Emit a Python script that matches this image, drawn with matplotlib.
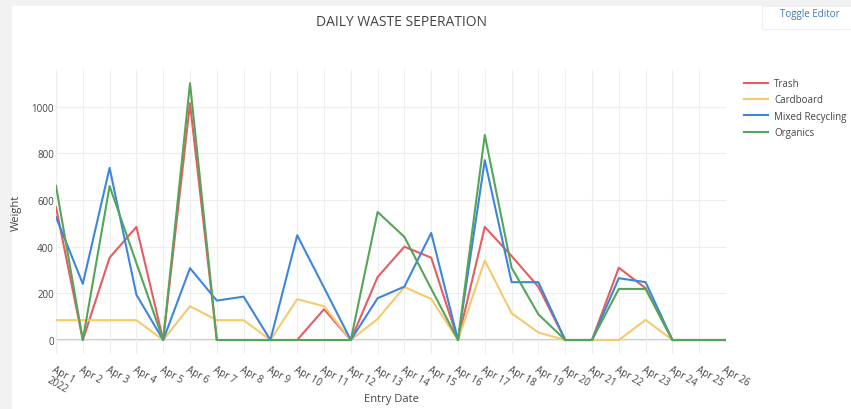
import matplotlib
matplotlib.use("Agg")
import matplotlib.pyplot as plt
import matplotlib.patches as mpatches
import pandas as pd

plt.rcParams["font.family"] = ["Open Sans", "DejaVu Sans"]

# daily weights, Apr 1 .. Apr 26 2022
dates = pd.date_range("2022-04-01", "2022-04-26", freq="D")
trash = [570, 0, 353, 485, 0, 1015, 0, 0, 0, 0, 132, 0, 270, 400, 353,
         0, 485, 360, 228, 0, 0, 310, 222, 0, 0, 0]
cardboard = [85, 85, 85, 85, 0, 145, 85, 85, 0, 175, 145, 0, 90, 227, 176,
             0, 341, 115, 32, 0, 0, 0, 86, 0, 0, 0]
mixed_recycling = [527, 241, 738, 194, 0, 308, 169, 186, 0, 449, 225, 0, 179, 229, 459,
                   0, 771, 248, 248, 0, 0, 265, 248, 0, 0, 0]
organics = [661, 0, 660, 330, 0, 1101, 0, 0, 0, 0, 0, 0, 549, 442, 220,
            0, 879, 310, 110, 0, 0, 219, 219, 0, 0, 0]

series = [
    ("Trash", trash, "#e35d63"),
    ("Cardboard", cardboard, "#f5c96e"),
    ("Mixed Recycling", mixed_recycling, "#3d86dc"),
    ("Organics", organics, "#55a558"),
]
tick_labels = ["Apr 1\n2022"] + [f"Apr {d.day}" for d in dates[1:]]

fig = plt.figure(figsize=(8.51, 4.10), dpi=100, facecolor="#f2f2f2")
# white page area inside the grey frame
fig.patches.append(mpatches.Rectangle((12 / 851, 0), 1, 1 - 7 / 410,
                                      transform=fig.transFigure,
                                      facecolor="white", edgecolor="none", zorder=-5))
ax = fig.add_axes([56 / 851, 1 - 355 / 410, 670 / 851, 285 / 410])
ax.set_zorder(2)
ax.set_facecolor("white")

for name, vals, color in series:
    ax.plot(dates, vals, color=color, lw=1.5, label=name, zorder=3)

ax.set_xlim(dates[0], dates[-1])
ax.set_ylim(-60, 1162)
ax.set_yticks([0, 200, 400, 600, 800, 1000])
ax.set_xticks(dates)
ax.set_xticklabels(tick_labels, rotation=-30, ha="left", rotation_mode="anchor",
                   fontsize=7, color="#444444", linespacing=1.1)
ax.tick_params(axis="y", labelsize=7, labelcolor="#444444", length=0, pad=1.5)
ax.tick_params(axis="x", length=0, pad=7)
ax.grid(True, color="#eeeeee", lw=0.8, zorder=0)
ax.axhline(0, color="#cccccc", lw=1.5, zorder=1)
for s in ax.spines.values():
    s.set_visible(False)

ax.set_xlabel("Entry Date", fontsize=8, color="#444444")
ax.xaxis.set_label_coords(0.5, -(394 - 355) / 285, transform=ax.transAxes)
ax.set_ylabel("Weight", fontsize=8, color="#444444")
ax.yaxis.set_label_coords(-(56 - 22) / 670, 0.5, transform=ax.transAxes)

fig.text(402 / 851, 1 - 22 / 410, "DAILY WASTE SEPERATION", ha="center", va="center",
         fontsize=10, color="#444444")

leg = ax.legend(loc="upper left", bbox_to_anchor=(1.021, 0.982), frameon=False,
                fontsize=7, handlelength=2.5, handletextpad=0.6,
                labelspacing=0.55, borderaxespad=0)
for t in leg.get_texts():
    t.set_color("#444444")

fig.patches.append(mpatches.Rectangle((762 / 851, 1 - 30 / 410), 90 / 851, 23 / 410,
                                      transform=fig.transFigure, facecolor="white",
                                      edgecolor="#eeeeee", lw=0.8, zorder=1))
fig.text(810 / 851, 1 - 14 / 410, "Toggle Editor", ha="center", va="center",
         fontsize=7, color="#3f78b5")

fig.savefig("out.png", dpi=100, facecolor=fig.get_facecolor())
